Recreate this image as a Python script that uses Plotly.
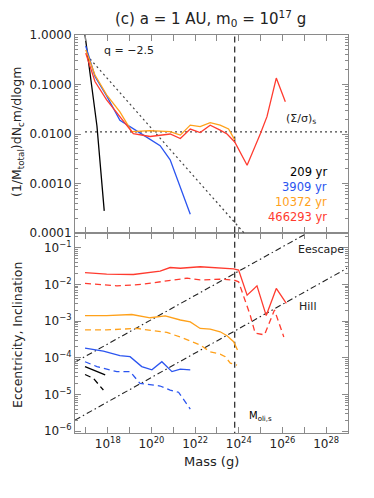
import plotly.graph_objects as go

# ---------------- data: top panel (size distribution) ----------------
black_top_m = [7.9e16, 1.0e17, 1.6e17, 3.2e17, 6.9e17]
black_top_v = [1.6, 0.72, 0.15, 0.0145, 2.8e-4]

blue_top_m = [9.8e16, 2.6e17, 8.9e17, 3.6e18, 4.3e19, 2.5e20, 7.2e20, 6.0e21]
blue_top_v = [0.60, 0.145, 0.059, 0.019, 0.0095, 0.0058, 0.0030, 2.4e-4]

orange_top_m = [9.8e16, 2.6e17, 8.9e17, 3.6e18, 1.26e19, 8.7e19, 7.2e20, 2.1e21,
                6.0e21, 1.7e22, 4.9e22, 1.4e23, 3.4e23, 6.5e23]
orange_top_v = [0.50, 0.155, 0.062, 0.028, 0.0112, 0.0117, 0.0112, 0.0095,
                0.0151, 0.0141, 0.017, 0.0151, 0.0126, 0.0076]

red_top_m = [9.8e16, 2.6e17, 8.9e17, 3.6e18, 1.48e19, 8.7e19, 2.5e20, 7.2e20, 2.1e21,
             6.0e21, 1.7e22, 4.9e22, 1.4e23, 2.9e23, 6.5e23, 2.4e24, 9.8e24, 1.95e25,
             5.2e25, 1.35e26]
red_top_v = [0.43, 0.115, 0.049, 0.0224, 0.0102, 0.0089, 0.0095, 0.0100, 0.0081,
             0.0126, 0.0107, 0.0151, 0.0120, 0.0100, 0.0069, 0.00234, 0.0102, 0.0224,
             0.135, 0.0447]

q_line_m = [1.09e17, 1.74e24]
q_line_v = [0.39, 1.0e-4]
sigma_line_m = [9.1e16, 1.0e29]
sigma_line_v = [0.011, 0.011]
m_oli = 6.5e23

# ---------------- data: bottom panel (e solid, i dashed) ----------------
red_e_m = [9.1e16, 8.9e17, 1.48e19, 2.5e20, 7.2e20, 2.1e21, 1.7e22, 1.4e23, 5.8e23,
           9.8e23, 2.4e24, 6.8e24, 1.8e25, 5.2e25, 1.5e26]
red_e_v = [0.0209, 0.0191, 0.0186, 0.0229, 0.0288, 0.0275, 0.0302, 0.0282, 0.0263,
           0.0245, 0.0051, 0.0091, 0.00141, 0.00776, 0.00302]
red_i_m = [9.1e16, 2.6e18, 3.6e19, 2.5e20, 4.3e21, 1.7e22, 1.4e23, 5.8e23, 9.8e23,
           3.3e24, 5.6e24, 1.5e25, 4.3e25, 1.15e26]
red_i_v = [0.0107, 0.0091, 0.0100, 0.0115, 0.0148, 0.0132, 0.0138, 0.0132, 0.0117,
           0.00148, 4.7e-4, 4.2e-4, 0.0020, 3.7e-4]

orange_e_m = [9.1e16, 8.9e17, 1.26e19, 8.7e19, 4.3e20, 2.1e21, 6.0e21, 1.7e22, 4.9e22,
              1.4e23, 2.9e23, 5.8e23, 8.7e23]
orange_e_v = [1.41e-3, 1.41e-3, 1.51e-3, 1.23e-3, 1.38e-3, 1.07e-3, 9.5e-4, 6.3e-4,
              6.0e-4, 5.1e-4, 4.0e-4, 2.75e-4, 1.62e-4]
orange_i_m = [9.1e16, 8.9e17, 2.1e19, 5.1e20, 3.0e21, 1.7e22, 4.9e22, 1.4e23, 2.4e23,
              4.1e23, 8.3e23]
orange_i_v = [5.75e-4, 5.75e-4, 6.3e-4, 4.9e-4, 3.4e-4, 2.24e-4, 1.45e-4, 1.26e-4,
              1.07e-4, 7.1e-5, 6.3e-5]

blue_e_m = [9.1e16, 6.3e17, 3.6e18, 1.05e19, 3.6e19, 1.05e20, 3.0e20, 8.7e20, 2.1e21, 6.0e21]
blue_e_v = [1.82e-4, 1.51e-4, 1.15e-4, 1.07e-4, 5.75e-5, 4.7e-5, 7.8e-5, 4.2e-5, 4.9e-5, 4.7e-5]
blue_i_m = [9.1e16, 3.2e17, 2.6e18, 1.05e19, 3.0e19, 8.7e19, 2.5e20, 7.2e20, 1.74e21, 6.0e21]
blue_i_v = [7.8e-5, 5.75e-5, 4.2e-5, 4.2e-5, 2.0e-5, 1.82e-5, 1.7e-5, 1.32e-5, 1.15e-5, 4.0e-6]

black_e_m = [9.1e16, 7.6e17]
black_e_v = [5.75e-5, 3.4e-5]
black_i_m = [9.1e16, 2.2e17, 6.3e17]
black_i_v = [3.5e-5, 2.75e-5, 1.32e-5]

escape_m = [3.16e16, 1.12e27]
escape_v = [7.6e-5, 0.234]
hill_m = [3.16e16, 9.1e28]
hill_v = [2.0e-6, 0.0275]

legend_labels = ["209 yr", "3909 yr", "10372 yr", "466293 yr"]
x_tick_exps = [18, 20, 22, 24, 26, 28]
top_tick_labels = ["0.0001", "0.0010", "0.0100", "0.1000", "1.0000"]
bottom_tick_exps = [-6, -5, -4, -3, -2, -1]

BLACK = "#000000"
BLUE = "#2b55f0"
ORANGE = "#ffa11a"
RED = "#ff3b2f"
colors = [BLACK, BLUE, ORANGE, RED]
FONT = "DejaVu Sans"
TXT = "#222222"
AX = "#8a8a8a"

fig = go.Figure()

def line(x, y, color, ax, dash="solid", width=1.3):
    xa, ya = ("x2", "y2") if ax == "top" else ("x", "y")
    fig.add_trace(go.Scatter(x=x, y=y, mode="lines", xaxis=xa, yaxis=ya,
                             line=dict(color=color, width=width, dash=dash),
                             showlegend=False, hoverinfo="skip"))

# top panel
line(q_line_m, q_line_v, "#444444", "top", dash="2px,3px", width=1.2)
line(sigma_line_m, sigma_line_v, "#444444", "top", dash="2px,3px", width=1.2)
line([m_oli, m_oli], [1e-5, 10], "#222222", "top", dash="6px,4px", width=1.2)
line(black_top_m, black_top_v, BLACK, "top")
line(blue_top_m, blue_top_v, BLUE, "top")
line(orange_top_m, orange_top_v, ORANGE, "top")
line(red_top_m, red_top_v, RED, "top")

# bottom panel
DD = "6px,3px,1.5px,3px"
line(escape_m, escape_v, "#222222", "bot", dash=DD, width=1.1)
line(hill_m, hill_v, "#222222", "bot", dash=DD, width=1.1)
line([m_oli, m_oli], [1e-7, 1], "#222222", "bot", dash="6px,4px", width=1.2)
line(red_e_m, red_e_v, RED, "bot")
line(red_i_m, red_i_v, RED, "bot", dash="6px,4px")
line(orange_e_m, orange_e_v, ORANGE, "bot")
line(orange_i_m, orange_i_v, ORANGE, "bot", dash="6px,4px")
line(blue_e_m, blue_e_v, BLUE, "bot")
line(blue_i_m, blue_i_v, BLUE, "bot", dash="6px,4px")
line(black_e_m, black_e_v, BLACK, "bot")
line(black_i_m, black_i_v, BLACK, "bot", dash="6px,4px")

x_minor = [10.0 ** e for e in range(17, 30, 2)]
top_minor = [k * 10.0 ** d for d in range(-4, 0) for k in range(2, 10)]
bot_minor = [k * 10.0 ** d for d in range(-7, 0) for k in range(2, 10)]

common_axis = dict(showline=True, linecolor=AX, linewidth=1, mirror="allticks",
                   ticks="inside", ticklen=6, tickcolor=AX, tickwidth=1,
                   showgrid=False, zeroline=False,
                   tickfont=dict(family=FONT, size=12, color=TXT))

# page offset of 8px (body margin) is compensated in the margins
DOM = 200 / 398
fig.update_layout(
    width=374, height=498, autosize=False,
    margin=dict(l=67, r=34, t=27, b=73),
    plot_bgcolor="white", paper_bgcolor="white",
    font=dict(family=FONT, color=TXT),
    xaxis=dict(type="log", range=[16.5, 29], anchor="y", domain=[0, 1],
               tickvals=[10.0 ** e for e in x_tick_exps],
               ticktext=[f"10<sup>{e}</sup>" for e in x_tick_exps],
               minor=dict(tickvals=x_minor, ticks="inside", ticklen=6, tickcolor=AX),
               **common_axis),
    xaxis2=dict(type="log", range=[16.5, 29], anchor="y2", domain=[0, 1], matches="x",
                tickvals=[10.0 ** e for e in x_tick_exps], showticklabels=False,
                minor=dict(tickvals=x_minor, ticks="inside", ticklen=6, tickcolor=AX),
                **common_axis),
    yaxis=dict(type="log", range=[-6.05, -0.6], domain=[0, DOM], anchor="x",
               tickvals=[10.0 ** e for e in bottom_tick_exps],
               ticktext=[f"10<sup>\u2212{-e}</sup>" for e in bottom_tick_exps],
               minor=dict(tickvals=bot_minor, ticks="inside", ticklen=3, tickcolor=AX),
               **common_axis),
    yaxis2=dict(type="log", range=[-4, 0], domain=[DOM, 1], anchor="x2",
                tickvals=[10.0 ** e for e in range(-4, 1)],
                ticktext=top_tick_labels,
                minor=dict(tickvals=top_minor, ticks="inside", ticklen=3, tickcolor=AX),
                **common_axis),
)

def px_x(p):
    return (p - 75) / 273.0

def px_y(p):
    return (433 - p) / 398.0

ann = []
def txt(text, x, y, size=12, color=TXT, xanchor="left", angle=0):
    ann.append(dict(text=text, x=px_x(x), y=px_y(y), xref="paper", yref="paper",
                    showarrow=False, xanchor=xanchor, yanchor="middle", textangle=angle,
                    font=dict(family=FONT, size=size, color=color)))

txt("(c) a = 1 AU, m<sub>0</sub> = 10<sup>17</sup> g", 210, 18, size=15, xanchor="center")
txt("Mass (g)", 211, 461, size=13, xanchor="center")
txt("(1/M<sub>total</sub>)dN<sub>c</sub>m/dlogm", 17, 132, size=12.5, xanchor="center", angle=-90)
txt("Eccentricity, Inclination", 17, 335, size=12.5, xanchor="center", angle=-90)
txt("q = \u22122.5", 102, 51, size=11)
txt("(\u03a3/\u03c3)<sub>s</sub>", 301, 119, size=11, xanchor="center")
for lab, c, yy in zip(legend_labels, colors, [171.7, 186.7, 201.5, 216.7]):
    txt(lab, 329, yy, size=11.5, color=c, xanchor="right")
txt("Eescape", 296, 250, size=11)
txt("Hill", 297, 306, size=11)
txt("M<sub>oli,s</sub>", 247, 416, size=10, color=BLACK)

fig.update_layout(annotations=ann)
fig.write_html("out.html")
